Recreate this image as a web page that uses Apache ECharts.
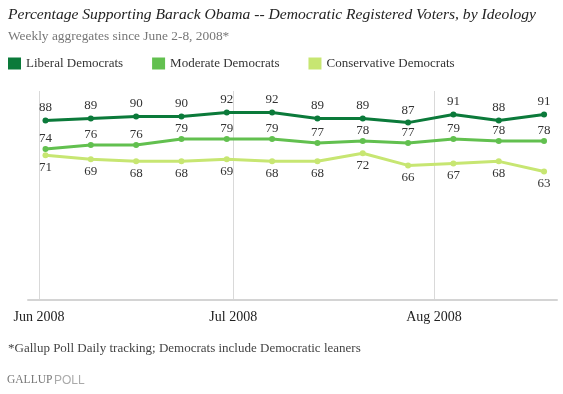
<!DOCTYPE html>
<html><head><meta charset="utf-8">
<script src="https://cdn.jsdelivr.net/npm/echarts@6/dist/echarts.min.js"></script>
<style>html,body{margin:0;padding:0;background:#fff}#c{width:563px;height:394px}</style>
</head><body><div id="c"></div>
<script>
const weekStarts = ['2008-06-02','2008-06-09','2008-06-16','2008-06-23','2008-06-30','2008-07-07','2008-07-14','2008-07-21','2008-07-28','2008-08-04','2008-08-11','2008-08-18'];
const liberal = [88, 89, 90, 90, 92, 92, 89, 89, 87, 91, 88, 91];
const moderate = [74, 76, 76, 79, 79, 79, 77, 78, 77, 79, 78, 78];
const conservative = [71, 69, 68, 68, 69, 68, 68, 72, 66, 67, 68, 63];
const monthTicks = ['2008-06-01','2008-07-01','2008-08-01'];
const monthLabels = ['Jun 2008','Jul 2008','Aug 2008'];

const base = Date.UTC(2008,5,1);
const dayOf = s => (Date.parse(s+'T00:00:00Z') - base) / 86400000;
const tickDays = monthTicks.map(dayOf);
const FONT = 'Liberation Serif';
const mk = vals => vals.map((v,i) => [dayOf(weekStarts[i]), v]);

const chart = echarts.init(document.getElementById('c'), null, {renderer:'canvas'});
const lbl = (pos, d) => ({show:true, position:pos, distance:d, color:'#333', fontFamily:FONT, fontSize:13});
chart.setOption({
  animation:false,
  textStyle:{fontFamily:FONT},
  title:{
    text:'Percentage Supporting Barack Obama -- Democratic Registered Voters, by Ideology',
    subtext:'Weekly aggregates since June 2-8, 2008*',
    left:3, top:2, itemGap:7,
    textStyle:{fontFamily:FONT, fontStyle:'italic', fontWeight:'normal', fontSize:15.6, color:'#222'},
    subtextStyle:{fontFamily:FONT, fontSize:13.4, color:'#777'}
  },
  legend:{
    left:3, top:52, icon:'rect', itemWidth:13, itemHeight:12, itemGap:29,
    textStyle:{fontFamily:FONT, fontSize:13, color:'#333'},
    data:['Liberal Democrats','Moderate Democrats','Conservative Democrats']
  },
  grid:{left:28, right:6, top:91, bottom:94},
  xAxis:{
    type:'value', min:-1.7, max:80,
    axisLine:{show:true, lineStyle:{color:'#d4d4d4', width:2}},
    axisTick:{show:false, customValues:tickDays},
    axisLabel:{customValues:tickDays, margin:10, color:'#222', fontFamily:FONT, fontSize:14,
      formatter:v => monthLabels[tickDays.indexOf(v)] || ''},
    splitLine:{show:true, lineStyle:{color:'#d9d9d9', width:1}}
  },
  yAxis:{type:'value', min:0, max:102.5, show:false, splitLine:{show:false}},
  series:[
    {name:'Liberal Democrats', type:'line', data:mk(liberal), color:'#0b7a3a',
     lineStyle:{width:3}, symbol:'circle', symbolSize:6, label:lbl('top', 3)},
    {name:'Moderate Democrats', type:'line', data:mk(moderate), color:'#62c04f',
     lineStyle:{width:3}, symbol:'circle', symbolSize:6, label:lbl('top', 1)},
    {name:'Conservative Democrats', type:'line', data:mk(conservative), color:'#c7e672',
     lineStyle:{width:3}, symbol:'circle', symbolSize:6, label:lbl('bottom', 3)}
  ],
  graphic:[
    {type:'text', left:8, top:342, style:{text:'*Gallup Poll Daily tracking; Democrats include Democratic leaners', font:'13px "Liberation Serif"', fill:'#444'}},
    {type:'text', left:7, top:374, style:{text:'GALLUP', font:'11.5px "Liberation Serif"', fill:'#777'}},
    {type:'text', left:54, top:375, style:{text:'POLL', font:'12px "Liberation Sans"', fill:'#aaa'}}
  ]
});
</script></body></html>
